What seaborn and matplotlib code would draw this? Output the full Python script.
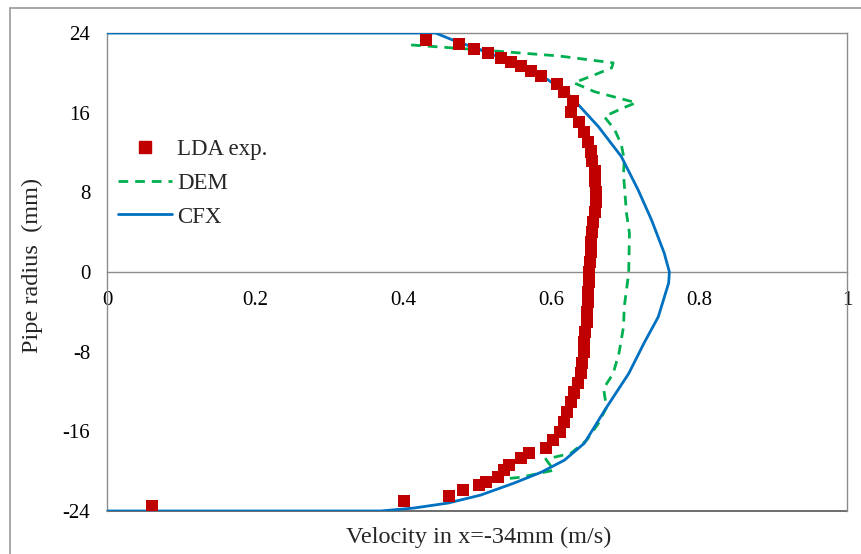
import matplotlib
matplotlib.use("Agg")
import matplotlib.pyplot as plt
from matplotlib.lines import Line2D
import seaborn as sns
import pandas as pd

# LDA experiment
lda_v = [0.431, 0.476, 0.496, 0.515, 0.533, 0.546, 0.560, 0.573, 0.587, 0.608,
         0.618, 0.630, 0.627, 0.638, 0.645, 0.650, 0.654, 0.656, 0.659, 0.659,
         0.661, 0.661, 0.660, 0.657, 0.656, 0.654, 0.654, 0.653, 0.652, 0.652,
         0.650, 0.650, 0.649, 0.648, 0.646, 0.645, 0.644, 0.642, 0.640, 0.636,
         0.631, 0.627, 0.622, 0.618, 0.612, 0.603, 0.593, 0.570, 0.560, 0.543,
         0.537, 0.528, 0.512, 0.503, 0.481, 0.462, 0.401, 0.061]
lda_r = [23.3, 22.9, 22.4, 22.0, 21.5, 21.1, 20.7, 20.2, 19.7, 18.9,
         18.1, 17.2, 16.1, 15.1, 14.1, 13.1, 12.1, 11.1, 10.1, 9.1,
         8.0, 7.0, 6.0, 5.0, 4.0, 3.0, 2.0, 1.0, 0.0, -1.0,
         -2.0, -3.0, -4.0, -5.0, -6.0, -7.0, -8.0, -9.1, -10.1, -11.1,
         -12.1, -13.1, -14.1, -15.1, -16.1, -16.9, -17.7, -18.2, -18.7, -19.4,
         -19.9, -20.6, -21.1, -21.4, -21.9, -22.5, -23.0, -23.5]

# DEM simulation
dem_v = [0.411, 0.505, 0.610, 0.684, 0.682, 0.659, 0.631, 0.659, 0.715, 0.695,
         0.672, 0.686, 0.695, 0.699, 0.698, 0.702, 0.706, 0.705, 0.699, 0.698,
         0.692, 0.684, 0.671, 0.675, 0.664, 0.648, 0.627, 0.593, 0.604, 0.560,
         0.509]
dem_r = [22.8, 22.3, 21.7, 21.0, 20.5, 19.8, 19.0, 18.1, 17.0, 16.4,
         15.6, 14.3, 12.8, 11.3, 9.8, 5.9, 3.9, -0.1, -3.5, -5.5,
         -8.1, -10.2, -11.7, -13.6, -15.2, -16.9, -18.2, -18.8, -19.9, -20.6,
         -21.0]

# CFX simulation
cfx_v = [0.0, 0.444, 0.467, 0.505, 0.550, 0.596, 0.627, 0.664, 0.695, 0.718,
         0.736, 0.753, 0.760, 0.759, 0.745, 0.726, 0.705, 0.675, 0.645, 0.618,
         0.587, 0.550, 0.505, 0.461, 0.415, 0.370, 0.0]
cfx_r = [24.0, 24.0, 23.3, 22.3, 21.0, 19.3, 17.6, 14.6, 11.6, 8.2,
         5.2, 1.9, 0.0, -1.1, -4.5, -7.1, -10.2, -13.6, -17.2, -18.9,
         -20.1, -21.2, -22.4, -23.2, -23.7, -24.0, -24.0]

x_ticks = [0, 0.2, 0.4, 0.6, 0.8, 1]
x_ticklabels = ["0", "0.2", "0.4", "0.6", "0.8", "1"]
y_ticks = [24, 16, 8, 0, -8, -16, -24]
y_ticklabels = ["24", "16", "8", "0", "-8", "-16", "-24"]

sns.set_style("white")
plt.rcParams['font.family'] = ['Liberation Serif', 'DejaVu Serif']
plt.rcParams['axes.unicode_minus'] = False

fig = plt.figure(figsize=(8.62, 5.54), dpi=100)
ax = fig.add_axes([107/862, 1-511/554, (847-107)/862, (511-33)/554])

red, green, blue = "#C00000", "#00B050", "#0070C0"
spine_c = "#8C8C8C"
dash = (0, (3.5, 2.5))

df_cfx = pd.DataFrame({"v": cfx_v, "r": cfx_r})
df_dem = pd.DataFrame({"v": dem_v, "r": dem_r})
df_lda = pd.DataFrame({"v": lda_v, "r": lda_r})

sns.lineplot(data=df_cfx, x="v", y="r", sort=False, estimator=None, ax=ax,
             color=blue, lw=2.0, zorder=3)
sns.lineplot(data=df_dem, x="v", y="r", sort=False, estimator=None, ax=ax,
             color=green, lw=2.0, zorder=2, dashes=False, linestyle=dash)
sns.scatterplot(data=df_lda, x="v", y="r", ax=ax, marker="s", s=75,
                color=red, edgecolor="none", linewidth=0, zorder=4)

ax.set_xlim(0, 1)
ax.set_ylim(-24, 24)
ax.set_xticks(x_ticks)
ax.set_xticklabels(x_ticklabels)
ax.set_yticks(y_ticks)
ax.set_yticklabels(y_ticklabels)

for s in ["left", "right", "top"]:
    ax.spines[s].set_visible(True)
    ax.spines[s].set_color(spine_c)
    ax.spines[s].set_linewidth(1.0)
ax.spines["bottom"].set_position(("data", 0))
ax.spines["bottom"].set_color(spine_c)
ax.spines["bottom"].set_linewidth(1.0)
ax.plot([0, 1], [0, 0], transform=ax.transAxes, color="#555555", lw=1.2,
        clip_on=False, zorder=1)

ax.tick_params(axis="both", direction="out", length=4, width=1, color=spine_c,
               labelsize=15, colors="black")
ax.tick_params(axis="y", pad=8)
ax.tick_params(axis="x", pad=10)
for lbl in ax.get_xticklabels() + ax.get_yticklabels():
    lbl.set_color("black")

ax.set_xlabel("")
ax.set_ylabel("")
fig.text(479/862, 1-537/554, "Velocity in x=-34mm (m/s)", ha="center", va="center",
         fontsize=17.5)
fig.text(32/862, 1-265/554, "Pipe radius  (mm)", ha="center", va="center",
         rotation=90, fontsize=17.5)

handles = [
    Line2D([], [], marker="s", color=red, linestyle="none", markersize=8.5),
    Line2D([], [], color=green, lw=2.0, linestyle=dash),
    Line2D([], [], color=blue, lw=2.0),
]
ax.legend(handles, ["LDA exp.", "DEM", "CFX"], loc="upper left",
          bbox_to_anchor=(-0.013, 0.821), frameon=False, fontsize=16.5,
          handlelength=2.36, labelspacing=0.55, handletextpad=0.22)

# figure border (left and top)
fig.add_artist(Line2D([10/862, 10/862], [0, 1-8/554], transform=fig.transFigure,
                      color="#9A9A9A", lw=1.2))
fig.add_artist(Line2D([10/862, 1], [1-8/554, 1-8/554], transform=fig.transFigure,
                      color="#9A9A9A", lw=1.2))

fig.savefig("out.png", dpi=100)
